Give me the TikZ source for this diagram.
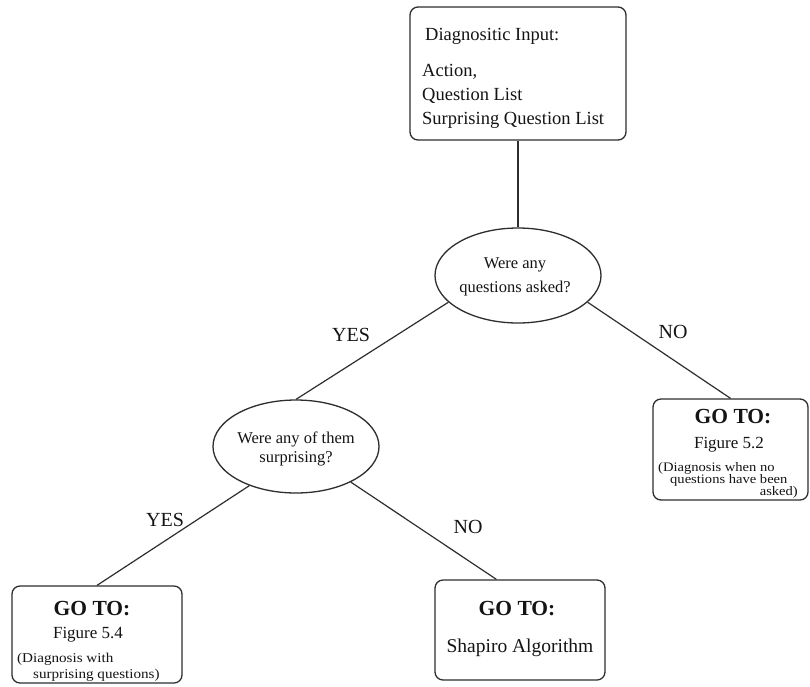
\documentclass[tikz,border=0pt]{standalone}
\usepackage{fontspec}
\setmainfont{Liberation Serif}
\newfontfamily\widenote[FakeStretch=1.12]{Liberation Serif}
\usetikzlibrary{shapes.geometric}
\newcommand\setfs[1]{\fontsize{#1}{#1}\selectfont}
\begin{document}
\begin{tikzpicture}[x=1pt,y=-1pt,
  ink/.style={draw=black!82, line width=1.3pt},
  box/.style={ink, rounded corners=8pt, inner sep=0pt},
  oval/.style={ink, ellipse, inner sep=0pt},
  link/.style={draw=black!82, line width=1.2pt},
  txt/.style={inner sep=0pt, text=black!92, anchor=base},
  ltxt/.style={txt, anchor=base west},
  big/.style={font=\setfs{18.5}},
  qtxt/.style={font=\setfs{16.5}},
  head/.style={font=\setfs{21.5}\bfseries},
  ref/.style={font=\setfs{17}},
  note/.style={font=\widenote\setfs{13}},
  lnote/.style={font=\widenote\setfs{13.5}},
  lab/.style={font=\setfs{20}}
]
\useasboundingbox[fill=white] (0,0) rectangle (810,686);

% input box
\node[box, minimum width=216pt, minimum height=133pt] (input) at (518,73.5) {};
\node[ltxt, big] (in1) at (425,40) {Diagnositic Input:};
\node[ltxt, big] (in2) at (422,76) {Action,};
\node[ltxt, big] (in3) at (422,100) {Question List};
\node[ltxt, big] (in4) at (422,124) {Surprising Question List};

% decisions
\node[oval, minimum width=166pt, minimum height=95pt] (askq) at (518,275.5) {};
\node[txt, qtxt] (q1a) at (515,268) {Were any};
\node[txt, qtxt] (q1b) at (515,292) {questions asked?};

\node[oval, minimum width=166pt, minimum height=93pt] (surq) at (296,446.5) {};
\node[txt, qtxt] (q2a) at (296,443) {Were any of them};
\node[txt, qtxt] (q2b) at (296,462) {surprising?};

% outcome boxes
\node[box, minimum width=155pt, minimum height=101pt] (rbox) at (730.5,449.5) {};
\node[txt, head] (r1) at (733,423) {GO TO:};
\node[txt, ref] (r2) at (729,448) {Figure 5.2};
\node[ltxt, note] (r3) at (658,471) {(Diagnosis when no};
\node[ltxt, note] (r4) at (670,483) {questions have been};
\node[txt, note, anchor=base east] (r5) at (798,495) {asked)};

\node[box, minimum width=170pt, minimum height=97pt] (lbox) at (97,634.5) {};
\node[txt, head] (l1) at (92,615) {GO TO:};
\node[txt, ref] (l2) at (88,638) {Figure 5.4};
\node[ltxt, lnote] (l3) at (17,662) {(Diagnosis with};
\node[ltxt, lnote] (l4) at (33,678) {surprising questions)};

\node[box, minimum width=170pt, minimum height=100pt] (mbox) at (520,630) {};
\node[txt, head] (m1) at (517,615) {GO TO:};
\node[txt, font=\setfs{19.5}] (m2) at (520,652) {Shapiro Algorithm};

% connectors
\draw[link] (input.south) -- (askq.north);
\draw[link] (askq.201) -- (surq.north);
\draw[link] (askq.339) -- (rbox.north);
\draw[link] (surq.220) -- (lbox.north);
\draw[link] (surq.327) -- (mbox.115);

% branch labels
\node[txt, lab] (yes1) at (351,341) {YES};
\node[txt, lab] (no1) at (673,338) {NO};
\node[txt, lab] (yes2) at (165,526) {YES};
\node[txt, lab] (no2) at (468,533) {NO};
\end{tikzpicture}
\end{document}
